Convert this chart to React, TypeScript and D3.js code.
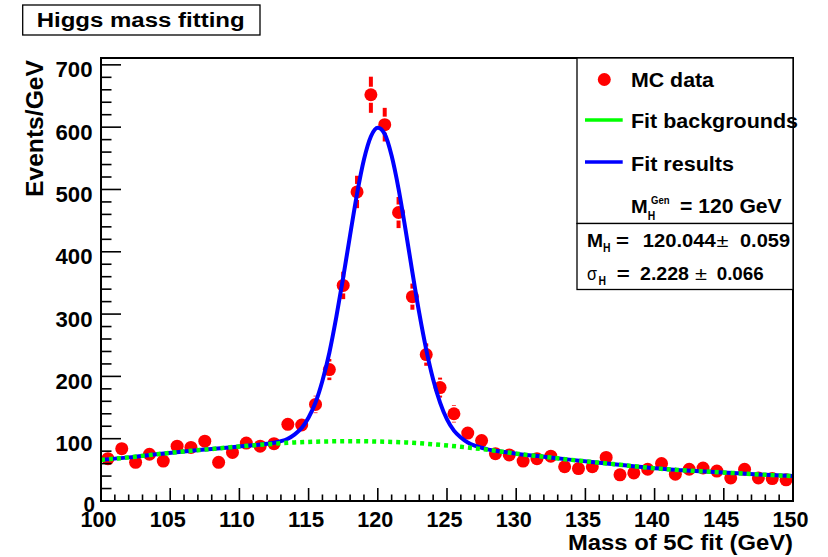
import React from "react";
import * as d3 from "d3";

// ---- data ----
const binCenters = [
  100.5, 101.5, 102.5, 103.5, 104.5, 105.5, 106.5, 107.5, 108.5, 109.5,
  110.5, 111.5, 112.5, 113.5, 114.5, 115.5, 116.5, 117.5, 118.5, 119.5,
  120.5, 121.5, 122.5, 123.5, 124.5, 125.5, 126.5, 127.5, 128.5, 129.5,
  130.5, 131.5, 132.5, 133.5, 134.5, 135.5, 136.5, 137.5, 138.5, 139.5,
  140.5, 141.5, 142.5, 143.5, 144.5, 145.5, 146.5, 147.5, 148.5, 149.5,
];
const mcCounts = [
  68, 84, 62, 75, 64, 88, 86, 96, 62, 78,
  93, 88, 92, 123, 122, 155, 211, 346, 496, 652,
  604, 463, 328, 235, 182, 140, 109, 97, 76, 74,
  64, 68, 72, 55, 52, 55, 70, 42, 45, 51,
  60, 43, 51, 53, 48, 37, 51, 37, 36, 34,
];
const mcErrors = [
  9, 10, 9, 10, 9, 11, 11, 11, 9, 10,
  11, 11, 11, 13, 13, 14, 17, 22, 26, 29,
  27, 25, 21, 18, 16, 14, 12, 11, 10, 10,
  9, 9, 10, 8, 8, 8, 10, 7, 8, 8,
  9, 8, 8, 8, 8, 7, 8, 7, 7, 7,
];

const bgMass = [100, 102, 104, 106, 108, 110, 112, 114, 116, 118, 120, 122, 124, 126, 128, 130, 132, 134, 136, 138, 140, 142, 144, 146, 148, 150];
const bgValues = [66, 70, 75, 79.5, 83.5, 87.5, 91, 94, 95.5, 96, 95.5, 94, 91, 87, 82, 76, 71, 66, 61.5, 57, 52.5, 49.5, 47, 44.5, 42, 40];

const fitMass = [
  100, 102, 104, 106, 108, 110, 111, 112, 112.5, 113, 113.5, 114, 114.5, 115, 115.5,
  116, 116.5, 117, 117.5, 118, 118.5, 119, 119.5, 120, 120.5, 121, 121.5, 122, 122.5,
  123, 123.5, 124, 124.5, 125, 125.5, 126, 126.5, 127, 127.5, 128, 129, 130, 132, 134,
  136, 138, 140, 142, 144, 146, 148, 150,
];
const fitValues = [
  66, 70, 75, 79.5, 83.5, 87.5, 89.5, 92, 93.5, 96, 100, 107, 117, 134, 158,
  193, 238, 295, 359, 427, 493, 548, 585, 599, 589, 554, 501, 436, 367,
  301, 243, 195, 158, 131, 113, 102, 94, 89, 85.5, 82.5, 79, 76, 71, 66,
  61.5, 57, 52.5, 49.5, 47, 44.5, 42, 40,
];

const xTicksMajor = [100, 105, 110, 115, 120, 125, 130, 135, 140, 145, 150];
const xTickLabels = ["100", "105", "110", "115", "120", "125", "130", "135", "140", "145", "150"];
const yTicksMajor = [0, 100, 200, 300, 400, 500, 600, 700];
const yTickLabels = ["0", "100", "200", "300", "400", "500", "600", "700"];

const titleText = "Higgs mass fitting";
const xTitle = "Mass of 5C fit (GeV)";
const yTitle = "Events/GeV";
const legendLabels = ["MC data", "Fit backgrounds", "Fit results"];

const FONT = "'Liberation Sans', Arial, Helvetica, sans-serif";
const RED = "#ff0000";
const GREEN = "#00ff00";
const BLUE = "#0000ff";

type TP = {
  x: number; y: number; size: number; len?: number; anchor?: "start" | "middle" | "end";
  weight?: string; children: React.ReactNode; transform?: string;
};
function T({ x, y, size, len, anchor = "start", weight = "bold", children, transform }: TP) {
  return (
    <text
      x={x}
      y={y}
      fontSize={size}
      fontFamily={FONT}
      fontWeight={weight}
      textAnchor={anchor}
      textLength={len}
      lengthAdjust={len ? "spacingAndGlyphs" : undefined}
      transform={transform}
      fill="#000"
    >
      {children}
    </text>
  );
}

export default function App() {
  const left = 101, right = 793, top = 58, bottom = 501;
  const x = d3.scaleLinear().domain([100, 150]).range([left, right]);
  const y = d3.scaleLinear().domain([0, 711]).range([bottom, top]);

  const xMinor = d3.range(100, 151, 1).filter((v) => v % 5 !== 0);
  const yMinor = d3.range(0, 711, 20).filter((v) => v % 100 !== 0);

  const line = d3
    .line<[number, number]>()
    .x((d) => x(d[0]))
    .y((d) => y(d[1]))
    .curve(d3.curveMonotoneX);

  const fitPath = line(fitMass.map((m, i) => [m, fitValues[i]] as [number, number])) || "";
  const bgPath = line(bgMass.map((m, i) => [m, bgValues[i]] as [number, number])) || "";

  const r = 6.5;

  return (
    <svg
      width={828}
      height={557}
      style={{ position: "absolute", left: 0, top: 0, background: "#fff" }}
    >
      <rect x={0} y={0} width={828} height={557} fill="#fff" />

      {/* title box */}
      <rect x={22.7} y={5} width={237.3} height={30} fill="#fff" stroke="#000" strokeWidth={1.3} />
      <T x={36.7} y={26.7} size={19.5} len={208}>{titleText}</T>

      {/* data error bars */}
      <g>
        {binCenters.map((m, i) => {
          const cx = x(m);
          const cy = y(mcCounts[i]);
          const e1 = y(mcCounts[i] + mcErrors[i]);
          const e2 = y(mcCounts[i] - mcErrors[i]);
          return (
            <g key={"e" + i}>
              {cy - r - 2 > e1 && (
                <line x1={cx} x2={cx} y1={e1} y2={cy - r - 1.5} stroke={RED} strokeWidth={4} />
              )}
              {e2 > cy + r + 2 && (
                <line x1={cx} x2={cx} y1={cy + r + 1.5} y2={e2} stroke={RED} strokeWidth={4} />
              )}
            </g>
          );
        })}
      </g>
      {/* markers */}
      <g>
        {binCenters.map((m, i) => (
          <circle key={"m" + i} cx={x(m)} cy={y(mcCounts[i])} r={r} fill={RED} />
        ))}
      </g>

      {/* fits */}
      <path d={fitPath} fill="none" stroke={BLUE} strokeWidth={4} />
      <path d={bgPath} fill="none" stroke={GREEN} strokeWidth={4.5} strokeDasharray="4,4" />

      {/* frame */}
      <rect x={left} y={top} width={right - left} height={bottom - top} fill="none" stroke="#000" strokeWidth={2} />

      {/* x ticks */}
      {xTicksMajor.map((v) => (
        <line key={"xt" + v} x1={x(v)} x2={x(v)} y1={bottom} y2={bottom - 13} stroke="#000" strokeWidth={1.6} />
      ))}
      {xMinor.map((v) => (
        <line key={"xm" + v} x1={x(v)} x2={x(v)} y1={bottom} y2={bottom - 6.5} stroke="#000" strokeWidth={1.6} />
      ))}
      {/* y ticks */}
      {yTicksMajor.map((v) => (
        <line key={"yt" + v} x1={left} x2={left + 20} y1={y(v)} y2={y(v)} stroke="#000" strokeWidth={1.6} />
      ))}
      {yMinor.map((v) => (
        <line key={"ym" + v} x1={left} x2={left + 10.5} y1={y(v)} y2={y(v)} stroke="#000" strokeWidth={1.6} />
      ))}

      {/* tick labels */}
      {xTicksMajor.map((v, i) => (
        <T key={"xl" + v} x={x(v) - 2.5} y={527} size={22.5} len={36} anchor="middle">{xTickLabels[i]}</T>
      ))}
      {yTicksMajor.map((v, i) => (
        <T
          key={"yl" + v}
          x={v === 0 ? 95 : 92.5}
          y={y(v) + (v === 0 ? 11 : 12.5)}
          size={22.5}
          len={v === 0 ? 11.5 : 37}
          anchor="end"
        >
          {yTickLabels[i]}
        </T>
      ))}

      {/* axis titles */}
      <T x={793} y={550} size={21.5} len={225} anchor="end">{xTitle}</T>
      <T x={0} y={0} size={23.5} len={137} anchor="end" transform="translate(43,60) rotate(-90)">{yTitle}</T>

      {/* legend box */}
      <rect x={577} y={58} width={216} height={165.5} fill="#fff" stroke="#000" strokeWidth={1.3} />
      <circle cx={604.3} cy={79.5} r={r} fill={RED} />
      <T x={631} y={87.3} size={20} len={83}>{legendLabels[0]}</T>
      <line x1={585} x2={622.7} y1={120} y2={120} stroke={GREEN} strokeWidth={3.6} />
      <T x={631} y={127.6} size={20} len={167}>{legendLabels[1]}</T>
      <line x1={585} x2={622.7} y1={162} y2={162} stroke={BLUE} strokeWidth={3.6} />
      <T x={631} y={170.5} size={20} len={103}>{legendLabels[2]}</T>
      <T x={631} y={213.3} size={19} len={16.7}>M</T>
      <T x={651} y={204} size={11.5} len={18.5}>Gen</T>
      <T x={647.7} y={220} size={12} len={7.5}>H</T>
      <T x={680} y={213.3} size={20} len={101.7}>= 120 GeV</T>

      {/* stats box */}
      <rect x={577} y={223.5} width={216} height={66} fill="#fff" stroke="#000" strokeWidth={1.3} />
      <T x={587} y={246.5} size={19} len={16}>M</T>
      <T x={603} y={251.5} size={13} len={7.5}>H</T>
      <T x={616} y={246.5} size={19} len={13}>=</T>
      <T x={642.7} y={246.5} size={19} len={73}>120.044</T>
      <T x={716.5} y={246.5} size={19} weight="normal" len={12}>±</T>
      <T x={740} y={246.5} size={19} len={50}>0.059</T>

      <T x={587} y={279.5} size={19} weight="normal" len={10}>σ</T>
      <T x={598.5} y={284.5} size={13} len={7.5}>H</T>
      <T x={616.7} y={279.5} size={19} len={13}>=</T>
      <T x={640} y={279.5} size={19} len={49}>2.228</T>
      <T x={695} y={279.5} size={19} weight="normal" len={12}>±</T>
      <T x={716.7} y={279.5} size={19} len={47}>0.066</T>
    </svg>
  );
}
